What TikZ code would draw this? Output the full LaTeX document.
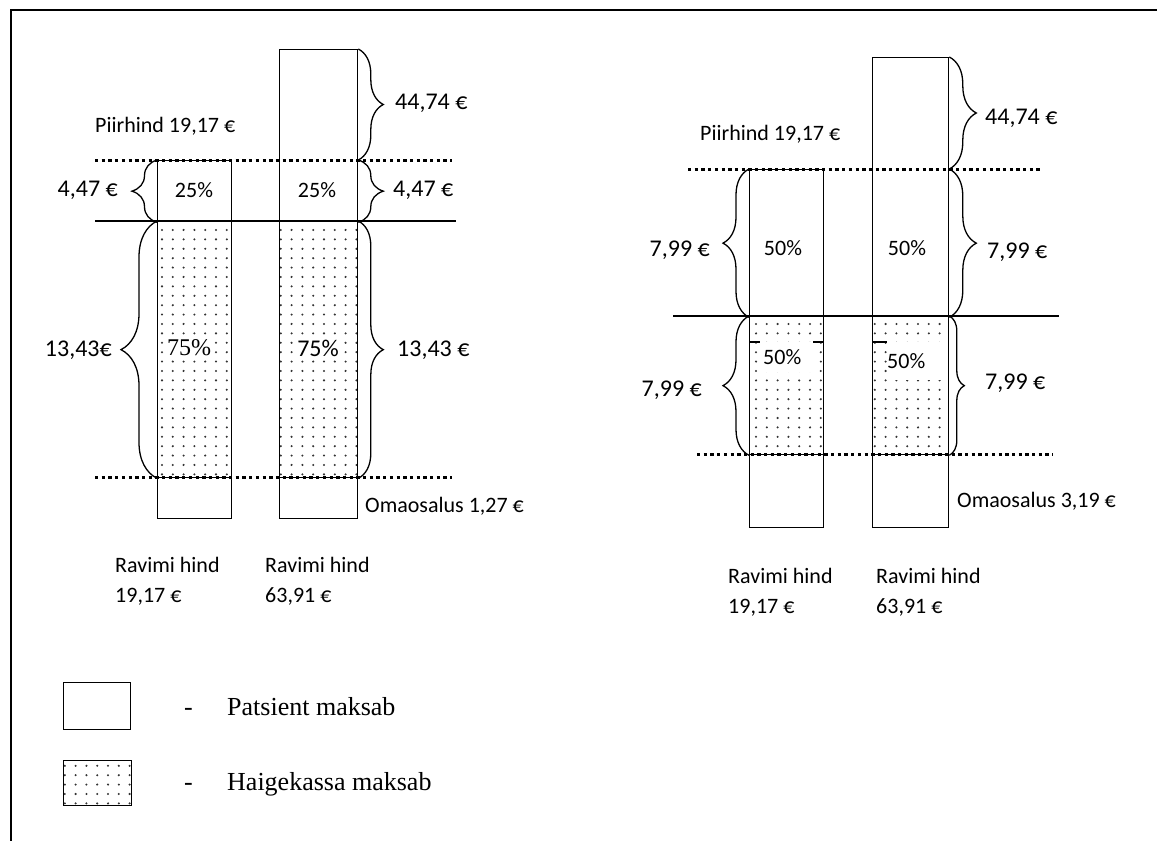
\documentclass[tikz,border=0pt]{standalone}
\usepackage{fontspec}
\setmainfont{Carlito}
\newfontfamily\legendfont{Liberation Serif}
\usepackage{tikz}
\usetikzlibrary{positioning, decorations.pathreplacing, patterns.meta, calc}

\tikzdeclarepattern{
  name=sparsedots,
  type=uncolored,
  bottom left={(-1.5pt,-1.5pt)},
  top right={(1.5pt,1.5pt)},
  tile size={(10.8pt,9.4pt)},
  code={\fill (0pt,0pt) circle (1.15pt);}
}

\begin{document}
\begin{tikzpicture}[x=1pt, y=-1pt,
        bar/.style={draw, line width=1.3pt, inner sep=0pt, anchor=north west},
        fund/.style={bar, pattern=sparsedots, pattern color=black!80},
        limitline/.style={line width=3pt, dash pattern=on 3.3pt off 3.4pt},
        solidline/.style={line width=2pt},
        curly/.style={decorate, line width=1.3pt, decoration={brace, amplitude=#1}},
        val/.style={font=\fontsize{24}{28}\selectfont, inner sep=0pt},
        txt/.style={font=\fontsize{22}{30}\selectfont, inner sep=0pt, align=left},
        pct/.style={font=\fontsize{22}{26}\selectfont, inner sep=1pt},
        legtext/.style={font=\legendfont\fontsize{26}{30}\selectfont, inner sep=0pt, anchor=base west}
    ]
    \useasboundingbox (0,0) rectangle (1157,841);

    % Frame
    \coordinate (frame-top) at (1157,10);
    \coordinate (frame-corner) at (11,10);
    \coordinate (frame-bottom) at (11,841);
    \draw[line width=1.6pt] (frame-top) -- (frame-corner) -- (frame-bottom);

    % Left case: bars
    \node[bar, minimum width=74pt, minimum height=61pt] (a-pay) at (157,160) {};
    \node[fund, minimum width=74pt, minimum height=256pt] (a-fund) at (157,221) {};
    \node[bar, minimum width=74pt, minimum height=41pt] (a-own) at (157,477) {};

    \node[bar, minimum width=78pt, minimum height=172pt] (b-pay) at (279,49) {};
    \node[fund, minimum width=78pt, minimum height=256pt] (b-fund) at (279,221) {};
    \node[bar, minimum width=78pt, minimum height=41pt] (b-own) at (279,477) {};

    % Left case: levels
    \coordinate (piir-a-l) at (95,160);
    \coordinate (piir-a-r) at (452,160);
    \coordinate (base-a-l) at (95,221);
    \coordinate (base-a-r) at (456,221);
    \coordinate (floor-a-l) at (95,477);
    \coordinate (floor-a-r) at (452,477);
    \draw[limitline] (piir-a-l) -- (piir-a-r);
    \draw[solidline] (base-a-l) -- (base-a-r);
    \draw[limitline] (floor-a-l) -- (floor-a-r);

    % Left case: braces
    \draw[curly=25pt] (b-pay.north east) -- (b-pay.north east |- piir-a-l);
    \draw[curly=25pt] (b-pay.north east |- piir-a-l) -- (b-pay.south east);
    \draw[curly=25pt] (a-pay.south west) -- (a-pay.north west);
    \draw[curly=36pt] (a-fund.south west) -- (a-fund.north west);
    \draw[curly=25pt] (b-fund.north east) -- (b-fund.south east);

    % Left case: texts
    \node[txt, anchor=west] (piir-a) at (95,126) {Piirhind 19,17 €};
    \node[val, anchor=west] (b-top-val) at (395,103) {44,74 €};
    \node[val, anchor=west] (b-co-val) at (393,190) {4,47 €};
    \node[val, anchor=east] (a-co-val) at (118,190) {4,47 €};
    \node[val, anchor=east] (a-fund-val) at (112,350) {13,43€};
    \node[val, anchor=west] (b-fund-val) at (397,350) {13,43 €};
    \node[pct] (a-co-pct) at (194,190) {25\%};
    \node[pct] (b-co-pct) at (317,190) {25\%};
    \node[pct, fill=white, font=\legendfont\fontsize{24}{28}\selectfont] (a-fund-pct) at (189,348) {75\%};
    \node[pct, fill=white, font=\fontsize{24}{28}\selectfont] (b-fund-pct) at (318,348) {75\%};
    \node[txt, anchor=west] (own-a) at (365,506) {Omaosalus 1,27 €};
    \node[txt, anchor=west] (price-a) at (115,581) {Ravimi hind\\19,17 €};
    \node[txt, anchor=west] (price-b) at (265,581) {Ravimi hind\\63,91 €};

    % Right case: bars
    \node[bar, minimum width=74pt, minimum height=147pt] (c-pay) at (749,169) {};
    \node[fund, minimum width=74pt, minimum height=138pt] (c-fund) at (749,316) {};
    \node[bar, minimum width=74pt, minimum height=73pt] (c-own) at (749,454) {};

    \node[bar, minimum width=76pt, minimum height=259pt] (d-pay) at (872,57) {};
    \node[fund, minimum width=76pt, minimum height=138pt] (d-fund) at (872,316) {};
    \node[bar, minimum width=76pt, minimum height=73pt] (d-own) at (872,454) {};

    % Right case: levels
    \coordinate (piir-c-l) at (688,169);
    \coordinate (piir-c-r) at (1043,169);
    \coordinate (base-c-l) at (673,316);
    \coordinate (base-c-r) at (1059,316);
    \coordinate (floor-c-l) at (697,454);
    \coordinate (floor-c-r) at (1053,454);
    \draw[limitline] (piir-c-l) -- (piir-c-r);
    \draw[solidline] (base-c-l) -- (base-c-r);
    \draw[limitline] (floor-c-l) -- (floor-c-r);

    % Right case: braces
    \draw[curly=27pt] (d-pay.north east) -- (d-pay.north east |- piir-c-l);
    \draw[curly=27pt] (d-pay.north east |- piir-c-l) -- (d-pay.south east);
    \draw[curly=26pt] (c-pay.south west) -- (c-pay.north west);
    \draw[curly=26pt] (c-fund.south west) -- (c-fund.north west);
    \draw[curly=15pt] (d-fund.north east) -- (d-fund.south east);

    % Right case: texts
    \node[txt, anchor=west] (piir-c) at (700,134) {Piirhind 19,17 €};
    \node[val, anchor=west] (d-top-val) at (985,118) {44,74 €};
    \node[val, anchor=west] (d-co-val) at (987,252) {7,99 €};
    \node[val, anchor=east] (c-co-val) at (710,250) {7,99 €};
    \node[val, anchor=east] (c-fund-val) at (702,390) {7,99 €};
    \node[val, anchor=west] (d-fund-val) at (985,383) {7,99 €};
    \node[pct] (c-co-pct) at (783,248) {50\%};
    \node[pct] (d-co-pct) at (907,248) {50\%};
    \node[pct, fill=white, anchor=north west, inner xsep=3pt, text width=47pt, minimum height=30pt, align=left] (c-low) at (760,342) {50\%};
    \node[pct, fill=white, anchor=north west, inner xsep=0pt, text width=58pt, minimum height=38pt, align=left] (d-low) at (887,342) {50\%};
    \draw[line width=1.3pt] (c-fund.west |- c-low.north) -- (c-low.north west);
    \draw[line width=1.3pt] (c-low.north east) -- (c-fund.east |- c-low.north);
    \draw[line width=1.3pt] (d-fund.west |- d-low.north) -- (d-low.north west);
    \node[txt, anchor=west] (own-c) at (957,501) {Omaosalus 3,19 €};
    \node[txt, anchor=west] (price-c) at (728,592) {Ravimi hind\\19,17 €};
    \node[txt, anchor=west] (price-d) at (876,592) {Ravimi hind\\63,91 €};

    % Legend
    \node[bar, minimum width=67pt, minimum height=47pt] (leg-pay) at (63,682) {};
    \node[fund, minimum width=68pt, minimum height=45pt] (leg-fund) at (63,760) {};
    \node[legtext] (leg-pay-dash) at (184,715) {-};
    \node[legtext] (leg-pay-txt) at (227,715) {Patsient maksab};
    \node[legtext] (leg-fund-dash) at (184,790) {-};
    \node[legtext] (leg-fund-txt) at (227,790) {Haigekassa maksab};

\end{tikzpicture}
\end{document}
